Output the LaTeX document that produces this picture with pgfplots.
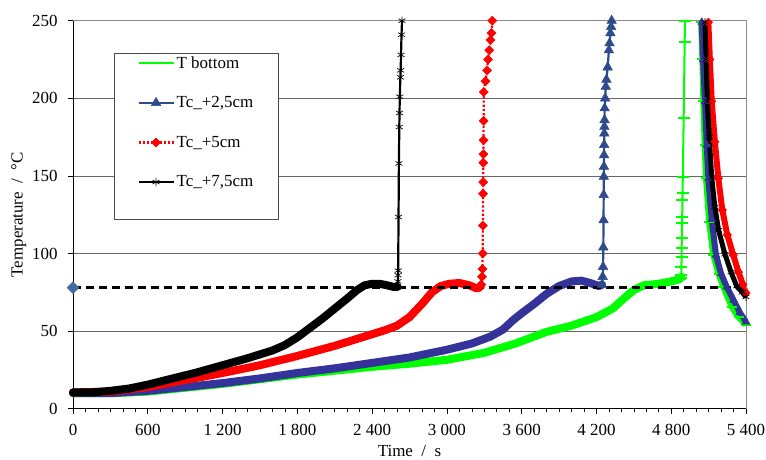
\documentclass[border=0pt]{standalone}
\usepackage{pgfplots}
\pgfplotsset{compat=1.18}
\usepackage{fontspec}
\setmainfont{Liberation Serif}
\definecolor{tbot}{HTML}{00FF00}
\definecolor{navyb}{HTML}{333399}
\definecolor{steel}{HTML}{2E4B8B}
\definecolor{diam}{HTML}{3F6E9E}
\pgfplotsset{
  legend image code/.code={\draw[mark repeat=2,mark phase=2,#1] plot coordinates {(0bp,0bp) (17.5bp,0bp) (35bp,0bp)};},
}
\begin{document}
\begin{tikzpicture}
\begin{axis}[
  scale only axis, width=673bp, height=388bp,
  xmin=0, xmax=5400, ymin=0, ymax=250, clip=false,
  axis x line*=bottom, axis y line*=left,
  axis line style={black, line width=0.8pt},
  xtick={0,600,1200,1800,2400,3000,3600,4200,4800,5400},
  xticklabels={0,600,1~200,1~800,2~400,3~000,3~600,4~200,4~800,5~400},
  minor x tick num=5,
  ytick={0,50,100,150,200,250},
  ymajorgrids, grid style={black!60, line width=0.6pt},
  tick align=outside, major tick length=5bp, minor tick length=3bp,
  tick style={black, line width=0.6pt},
  ticklabel style={font=\fontsize{17}{20}\selectfont},
  yticklabel style={xshift=-7bp},
  xticklabel style={yshift=-7bp},
  /pgf/number format/assume math mode=true,
  xlabel={Time\enspace/\enspace s}, ylabel={Temperature\enspace/\enspace °C},
  label style={font=\fontsize{17}{20}\selectfont},
  xlabel style={yshift=-3bp}, ylabel style={yshift=-1bp},
  legend style={at={(0.061,0.917)}, anchor=north west, draw=black!70, line width=0.8pt, fill=white,
    font=\fontsize{17}{20}\selectfont, row sep=23bp, inner xsep=23bp, inner ysep=1bp,
    legend cell align=left},
]
% ---------- T bottom (green)
\addplot[tbot, line width=8bp, line join=round, line cap=round, forget plot] coordinates {
(0,10) (300,10) (600,11) (900,13.5) (1200,16) (1500,19) (1800,22) (2100,24.5) (2400,27)
(2700,29) (3000,31.5) (3300,36) (3550,42) (3800,49.5) (4000,53.5) (4200,59) (4330,64.5)
(4420,71) (4500,76.5) (4580,79.5) (4700,80.5) (4800,82) (4870,83.5) (4880,85)};
\addplot[tbot, line width=2bp, mark=-, mark size=6bp, mark options={line width=2bp}] coordinates {
(4870,83.5) (4878,84) (4880,86) (4882,91.4) (4883,98) (4884,103.3) (4885,109.7) (4887,119.4)
(4888,123.7) (4890,134.4) (4891,139) (4893,149.5) (4900,187) (4908,236.5) (4911,250)};
\addlegendentry{T bottom}
\addplot[tbot, line width=6bp, line join=round, mark=-, mark size=5bp, mark options={line width=2bp}, forget plot] coordinates {
(5040,249) (5050,225) (5058,198) (5068,170) (5079,148.5) (5105,120) (5138,99) (5180,87)
(5218,78.5) (5285,65.6) (5340,59) (5400,54)};
% ---------- Tc +2.5cm (blue)
\addplot[navyb, line width=8bp, line join=round, line cap=round, forget plot] coordinates {
(0,10) (300,10) (600,11.5) (900,14) (1200,16.5) (1500,19.5) (1800,23) (2100,26) (2400,29.5)
(2700,33) (3000,38) (3200,42) (3350,46.5) (3450,51) (3530,57) (3600,61.5) (3700,67.5)
(3800,74) (3900,79) (4000,82) (4080,82.5) (4150,81) (4220,79) (4245,80)};
\addplot[steel, line width=2.2bp, mark=triangle*, mark size=5.5bp, mark options={fill=steel, line width=0.5bp}] coordinates {
(4245,80) (4250,85) (4253,91.4) (4255,104) (4257,121.5) (4258,137.7) (4259,149.5) (4260,156)
(4261,163.4) (4262,170) (4263,177.4) (4264,181.7) (4265,186) (4266,193.6) (4270,200)
(4275,207.5) (4280,212) (4290,220) (4300,231) (4305,235.5) (4312,242) (4318,246) (4322,250)};
\addlegendentry{Tc\_+2,5cm}
\addplot[navyb, line width=6bp, line join=round, mark=triangle*, mark size=4.5bp, mark options={fill=navyb, line width=0.5bp}, forget plot] coordinates {
(5045,249) (5055,225) (5071,198) (5085,170) (5098,148.5) (5125,122) (5159,99) (5200,87)
(5245,78.5) (5300,70) (5350,62) (5400,56)};
% ---------- Tc +5cm (red)
\addplot[red, line width=8bp, line join=round, line cap=round, forget plot] coordinates {
(0,10.5) (300,11) (600,14) (900,18.5) (1200,23) (1500,28) (1800,34) (2100,40.5) (2300,45.5)
(2500,50.5) (2600,53.5) (2700,59) (2800,67.5) (2880,75) (2950,79) (3020,80.5) (3100,81)
(3180,79.5) (3240,77.5) (3266,78.5)};
\addplot[red, line width=2.2bp, dotted, mark=square*, mark size=3.2bp, mark options={solid, rotate=45, fill=red, line width=0.5bp}] coordinates {
(3266,78.5) (3275,80) (3282,85) (3285,90) (3287,100) (3289,118) (3290,138.5) (3291,146)
(3292,158.5) (3293,164) (3294,173) (3295,185.5) (3296,204) (3310,211) (3322,218) (3330,225)
(3340,231) (3350,237.5) (3358,242) (3364,250)};
\addlegendentry{Tc\_+5cm}
\addplot[red, line width=6bp, line join=round, mark=square*, mark size=3bp, mark options={rotate=45, fill=red, line width=0.5bp}, forget plot] coordinates {
(5098,249) (5110,225) (5125,198) (5150,172) (5178,148.5) (5210,128) (5250,112) (5298,99)
(5340,88) (5375,80) (5400,74.5)};
% ---------- Tc +7.5cm (black)
\addplot[black, line width=8bp, line join=round, line cap=round, forget plot] coordinates {
(0,10.5) (150,10.5) (300,11.5) (450,13) (600,15.5) (800,19.5) (1000,23.5) (1200,28)
(1400,32.5) (1600,37.5) (1700,41) (1800,46) (1900,52) (2000,58) (2100,64.5) (2200,71)
(2280,76.5) (2340,79.5) (2400,80.5) (2460,80.5) (2520,79.5) (2570,78.5) (2605,78.5)};
\addplot[black, line width=2.2bp, mark=asterisk, mark size=4bp, mark options={line width=0.7bp}] coordinates {
(2605,78.5) (2607,82) (2608,86) (2609,89) (2612,123.5) (2615,158) (2618,181.5) (2620,190.5)
(2622,201) (2627,213.5) (2629,218) (2632,228) (2636,241) (2640,250)};
\addlegendentry{Tc\_+7,5cm}
\addlegendimage{empty legend}
\addlegendentry{}
\addplot[black, line width=5bp, line join=round, mark=asterisk, mark size=4bp, mark options={line width=0.7bp}, forget plot] coordinates {
(5071,249) (5080,225) (5090,198) (5105,175) (5125,149) (5150,130) (5180,115) (5231,99.5)
(5280,88) (5325,79) (5370,75) (5400,72)};
% ---------- reference line
\addplot[black, line width=2.4bp, dash pattern=on 8bp off 5bp, forget plot] coordinates {(0,78) (5400,78)};
\addplot[only marks, mark=square*, mark size=4.2bp, mark options={rotate=45}, color=diam, forget plot] coordinates {(0,78)};
\draw[black!45, line width=0.8pt] (rel axis cs:0,1) -- (rel axis cs:1,1) -- (rel axis cs:1,0);
\end{axis}
\pgfresetboundingbox
\path ([shift={(-73bp,-50.5bp)}]current axis.south west) rectangle ([shift={(20bp,20.7bp)}]current axis.north east);
\end{tikzpicture}
\end{document}
